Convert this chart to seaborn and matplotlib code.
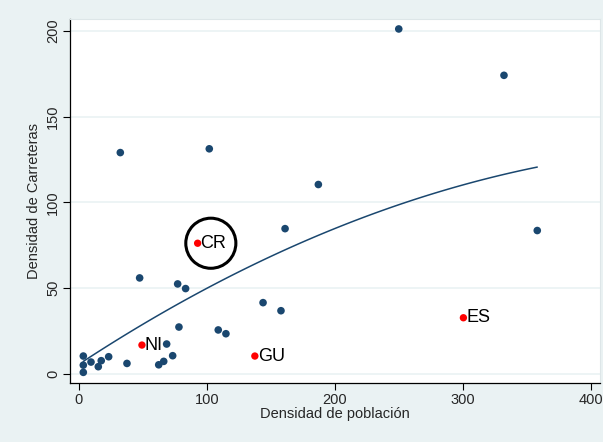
import numpy as np
import pandas as pd
import matplotlib
matplotlib.use("Agg")
import matplotlib.pyplot as plt
import matplotlib.transforms as mtransforms
import seaborn as sns

# Points
pop_density = [3.4, 3.4, 3.4, 9.4, 15.1, 17.4, 23.2, 37.5, 62.3, 66.2, 68.5,
               73.2, 78.1, 108.8, 114.8, 47.4, 77.1, 83.3, 32.3, 101.8, 187.0,
               161.0, 358.0, 143.8, 157.8, 249.8, 332.0]
road_density = [10.5, 5.2, 1.0, 7.0, 4.3, 7.8, 10.1, 6.2, 5.4, 7.4, 17.5,
                10.7, 27.4, 25.7, 23.5, 56.0, 52.5, 49.8, 129.0, 131.2, 110.4,
                84.7, 83.6, 41.6, 36.9, 201.0, 174.0]

# Highlighted countries (red)
hl_codes = ["CR", "NI", "GU", "ES"]
hl_pop = [92.7, 49.2, 137.4, 300.3]
hl_road = [76.2, 16.9, 10.5, 32.8]

x_ticks = [0, 100, 200, 300, 400]
y_ticks = [0, 50, 100, 150, 200]

navy = "#1a476f"
bg = "#eaf2f3"

sns.set_theme(style="white")
plt.rcParams["font.family"] = ["Liberation Sans", "DejaVu Sans"]

df = pd.DataFrame({
    "x": pop_density + hl_pop,
    "y": road_density + hl_road,
})

fig = plt.figure(figsize=(6.03, 4.42), dpi=100, facecolor=bg)
ax = fig.add_axes([70 / 603, 59 / 442, 530 / 603, 364 / 442])
ax.set_facecolor("white")

for yt in y_ticks:
    ax.axhline(yt, color=bg, linewidth=1.2, zorder=0)

# quadratic fit over all countries
sns.regplot(data=df, x="x", y="y", order=2, ci=None, scatter=False,
            ax=ax, line_kws={"color": navy, "linewidth": 1.1})

sns.scatterplot(x=pop_density, y=road_density, ax=ax, color=navy, s=30,
                edgecolor="none", zorder=3)
sns.scatterplot(x=hl_pop, y=hl_road, ax=ax, color="red", s=28,
                edgecolor="none", zorder=4)

for code, px, py in zip(hl_codes, hl_pop, hl_road):
    ax.annotate(code, (px, py), xytext=(2, 0), textcoords="offset points",
                ha="left", va="center", fontsize=13, color="black")

# circle around CR
i = hl_codes.index("CR")
off = mtransforms.offset_copy(ax.transData, fig=fig, x=9.5, y=0, units="points")
ax.scatter([hl_pop[i]], [hl_road[i]], s=1300, facecolors="none",
           edgecolors="black", linewidths=2.2, transform=off, zorder=5)

ax.set_xlim(-7, 407)
ax.set_ylim(-5.2, 206.8)
ax.set_xticks(x_ticks)
ax.set_yticks(y_ticks)
ax.set_yticklabels([str(t) for t in y_ticks], rotation=90, va="center")
ax.tick_params(axis="both", which="both", direction="out", length=5, width=0.8,
               color="black", labelsize=10.5, pad=2, bottom=True, left=True)
ax.set_xlabel("Densidad de población", fontsize=10.5, labelpad=0)
ax.set_ylabel("Densidad de Carreteras", fontsize=10.5, labelpad=4)

for side in ["left", "bottom"]:
    ax.spines[side].set_color("black")
    ax.spines[side].set_linewidth(0.9)
for side in ["top", "right"]:
    ax.spines[side].set_color("#dde6e8")
    ax.spines[side].set_linewidth(0.8)

fig.savefig("out.png", dpi=100, facecolor=bg)
